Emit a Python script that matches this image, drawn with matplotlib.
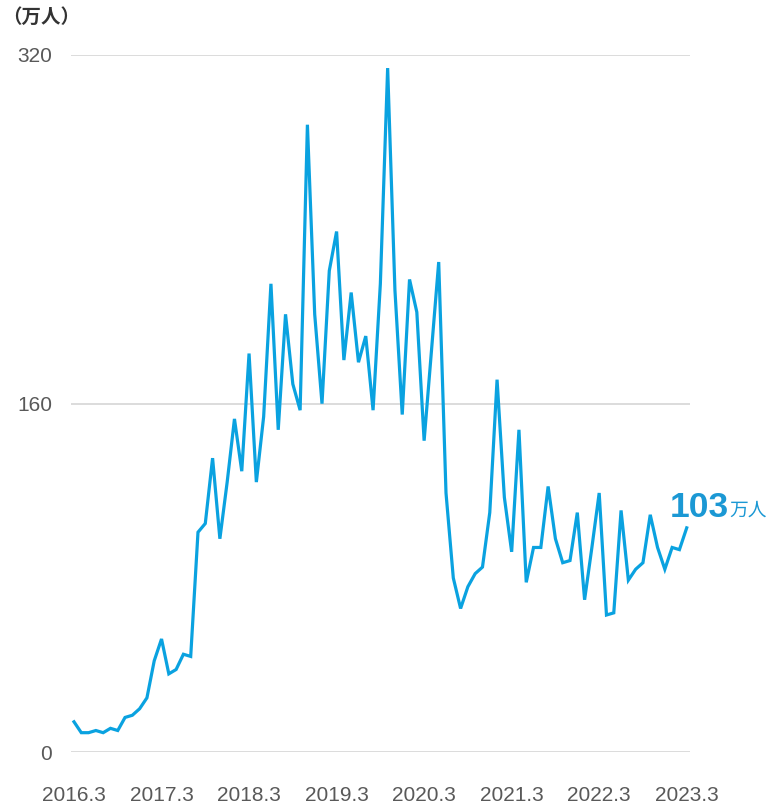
import matplotlib.pyplot as plt
import numpy as np

plt.rcParams['font.family'] = ['Liberation Sans', 'Noto Sans CJK JP']

# monthly visitors (万人), 2016.3 - 2023.3
visitors = [14, 9, 9, 10, 9, 11, 10, 16, 17, 20, 25, 42,
            52, 36, 38, 45, 44, 101, 105, 135, 98, 124, 153, 129,
            183, 124, 154, 215, 148, 201, 169, 157, 288, 201, 160, 221,
            239, 180, 211, 179, 191, 157, 215, 314, 212, 155, 217, 202,
            143, 184, 225, 119, 80, 66, 76, 82, 85, 110, 171, 117,
            92, 148, 78, 94, 94, 122, 98, 87, 88, 110, 70, 94,
            119, 63, 64, 111, 79, 84, 87, 109, 94, 84, 94, 93,
            103]
year_labels = ["2016.3", "2017.3", "2018.3", "2019.3",
               "2020.3", "2021.3", "2022.3", "2023.3"]
y_ticks = [0, 160, 320]
last_label = "103"
unit = "万人"

blue = "#0aa2e0"
label_blue = "#1b98d4"
grey_text = "#595959"

fig = plt.figure(figsize=(7.74, 8.06), dpi=100)
ax = fig.add_axes([71 / 774, 1 - 752.3 / 806, 619 / 774, 697.3 / 806])

x = np.arange(len(visitors))
ax.plot(x, visitors, color=blue, lw=2.3, solid_joinstyle='miter', clip_on=False, zorder=3)

ax.set_xlim(-0.41, len(visitors) - 1 + 0.45)
ax.set_ylim(0, 320)

ax.set_yticks(y_ticks)
ax.set_yticklabels([str(v) for v in y_ticks])
ax.set_xticks(np.arange(0, len(visitors), 12))
ax.set_xticklabels(year_labels)

ax.grid(axis='y', color='#d6d6d6', lw=1.2)
ax.set_axisbelow(True)
for s in ax.spines.values():
    s.set_visible(False)
ax.tick_params(axis='both', length=0, labelsize=15, colors=grey_text)
ax.tick_params(axis='y', pad=13.5)
ax.tick_params(axis='x', pad=24)

# end label
ax.annotate(last_label, xy=(x[-1], visitors[-1]), xytext=(-12, 7.5),
            textcoords='offset points', fontsize=25.5, fontweight='bold',
            color=label_blue, ha='left', va='baseline', annotation_clip=False)
ax.annotate(unit, xy=(x[-1], visitors[-1]), xytext=(31, 9),
            textcoords='offset points', fontsize=13.5,
            color=label_blue, ha='left', va='baseline', annotation_clip=False)

fig.text(0.003, 1 - 17 / 806, "（万人）", fontsize=14, fontweight='bold',
         color='#333333', ha='left', va='center')

fig.savefig("out.png", dpi=100)
